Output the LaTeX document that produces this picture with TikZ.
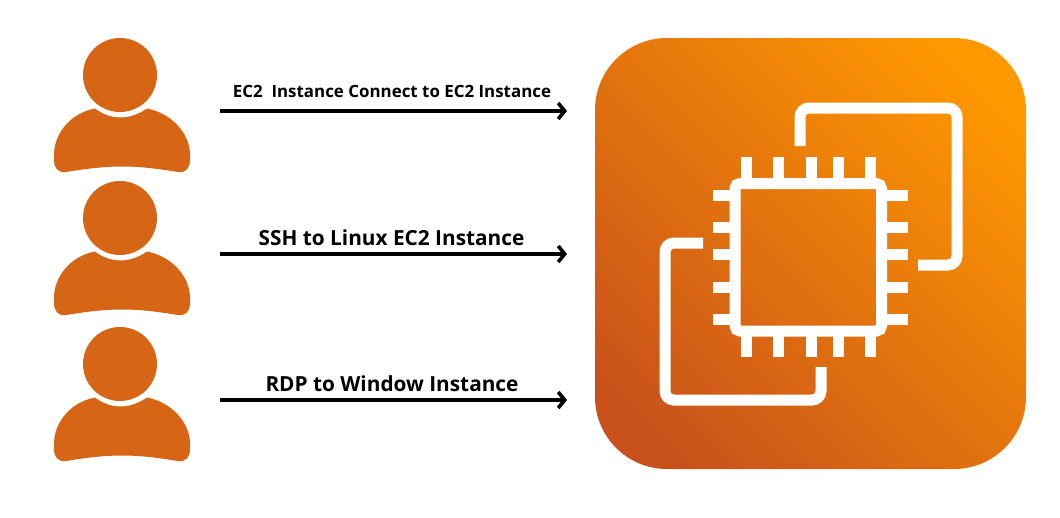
\documentclass[tikz,border=0pt]{standalone}
\usepackage{fontspec}
\setmainfont{Open Sans}
\usetikzlibrary{arrows.meta}
\definecolor{userorange}{HTML}{D66515}
\definecolor{iconlow}{HTML}{C8511B}
\definecolor{iconhigh}{HTML}{FF9900}
\tikzset{
  personfill/.style={fill=userorange,draw=none},
  flowarrow/.style={draw=black,line width=3.8pt,-{Straight Barb[length=6.5pt,width=16pt,line width=3.6pt]}},
  flowlabel/.style={font=\bfseries,text=black,inner sep=0pt,anchor=base},
  iconline/.style={draw=white,line width=11pt,rounded corners=9pt},
  iconpin/.style={draw=white,line width=11pt},
}
\newcommand{\userfigure}[1]{%
  \begin{scope}[yshift=-#1pt]
    \fill[personfill] (120,75) circle (37);
    \fill[personfill] (95,108.5)
      .. controls (71,113) and (54,133) .. (54,155)
      -- (54,160)
      .. controls (54,168) and (58,173) .. (66,172)
      .. controls (85,169) and (102,166.5) .. (122,166.5)
      .. controls (142,166.5) and (159,169) .. (178,172)
      .. controls (186,173) and (190,168) .. (190,160)
      -- (190,155)
      .. controls (190,133) and (171,113) .. (147,108.5)
      .. controls (139,114) and (130,117.5) .. (120.5,117.5)
      .. controls (111,117.5) and (102,114) .. (95,108.5) -- cycle;
  \end{scope}}
\begin{document}
\begin{tikzpicture}[x=1pt,y=-1pt]
\useasboundingbox (0,0) rectangle (1060,517);
\fill[white] (0,0) rectangle (1060,517);
% users
\userfigure{0}
\userfigure{143}
\userfigure{289}
% icon tile
\begin{scope}
  \clip[rounded corners=72pt] (595,38) rectangle (1026,469);
  \shade[left color=iconhigh,right color=iconlow,shading angle=-45]
    (565,8) rectangle (1056,499);
\end{scope}
\node[inner sep=0pt,minimum width=431pt,minimum height=431pt] (tile) at (810.5,253.5) {};
% chip
\draw[iconline,rounded corners=5pt] (735,183.5) rectangle (881.5,331);
\foreach \px in {746,778,811,838,870}{
  \draw[iconpin] (\px,157) -- (\px,180);
  \draw[iconpin] (\px,334) -- (\px,357);
}
\foreach \py in {195,227,254,287,319}{
  \draw[iconpin] (713,\py) -- (732,\py);
  \draw[iconpin] (884,\py) -- (908,\py);
}
\draw[iconline] (800,146) -- (800,108) -- (957,108) -- (957,265) -- (918,265);
\draw[iconline] (703,243) -- (665,243) -- (665,400) -- (821,400) -- (821,367);
% connectors
\coordinate (s1) at (220,111); \coordinate (e1) at (567,111);
\coordinate (s2) at (220,254); \coordinate (e2) at (567,254);
\coordinate (s3) at (220,400); \coordinate (e3) at (567,400);
\draw[flowarrow] (s1) -- (e1);
\draw[flowarrow] (s2) -- (e2);
\draw[flowarrow] (s3) -- (e3);
% labels
\node[flowlabel,font=\bfseries\fontsize{16.9}{20}\selectfont] (l1) at (392,97) {EC2\ \ Instance Connect to EC2 Instance};
\node[flowlabel,font=\bfseries\fontsize{20.8}{24}\selectfont] (l2) at (391.5,245) {SSH to Linux EC2 Instance};
\node[flowlabel,font=\bfseries\fontsize{20.8}{24}\selectfont] (l3) at (392,391) {RDP to Window Instance};
\end{tikzpicture}
\end{document}
